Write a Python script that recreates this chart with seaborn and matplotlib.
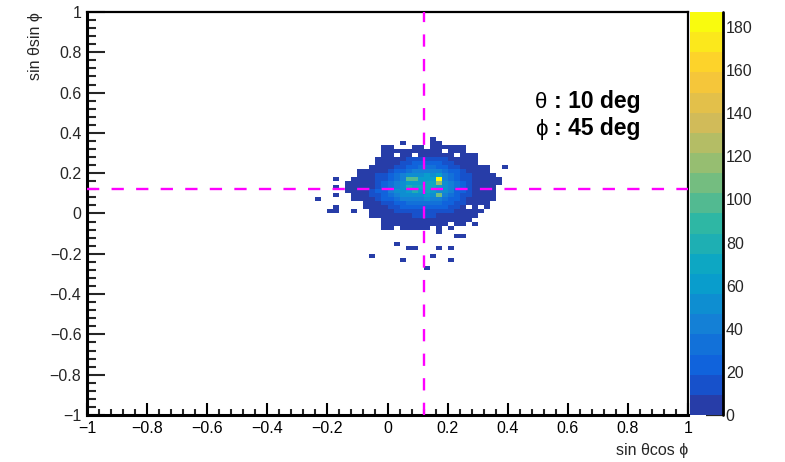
import numpy as np
import matplotlib
matplotlib.use("Agg")
import matplotlib.pyplot as plt
import seaborn as sns
from matplotlib.colors import ListedColormap
from matplotlib.lines import Line2D
from matplotlib.ticker import AutoMinorLocator

# ---------------- data ----------------
theta_deg = 10
phi_deg = 45
bin_width = 0.02
x_first_edge = -0.26      # left edge of column 0
y_top_edge = 0.40         # top edge of row 0
# counts per row (row 0 = top, y in [0.38,0.40]); {column index: count}
rows = [
    {},
    {20: 1},
    {15: 1, 20: 1, 21: 1},
    {12: 1, 13: 1, 17: 1, 18: 1, 20: 2, 21: 2, 22: 1, 23: 1, 24: 1, 25: 1},
    {12: 2, 13: 2, 14: 3, 15: 3, 16: 2, 17: 3, 18: 4, 19: 4, 20: 5, 21: 4, 23: 3, 24: 2, 25: 2},
    {12: 2, 13: 3, 15: 5, 16: 6, 18: 8, 19: 8, 20: 8, 21: 7, 22: 6, 23: 5, 25: 2, 26: 2, 27: 1},
    {11: 1, 12: 3, 13: 4, 14: 6, 15: 8, 16: 10, 17: 12, 18: 13, 19: 14, 20: 13, 21: 12, 22: 10, 23: 8, 24: 6, 25: 4, 26: 3, 27: 2},
    {11: 2, 12: 4, 13: 6, 14: 9, 15: 13, 16: 16, 17: 19, 18: 21, 19: 22, 20: 21, 21: 19, 22: 16, 23: 13, 24: 9, 25: 6, 26: 4, 27: 2},
    {10: 1, 11: 4, 12: 6, 13: 9, 14: 13, 15: 18, 16: 23, 17: 27, 18: 30, 19: 32, 20: 30, 21: 27, 22: 23, 23: 18, 24: 13, 25: 9, 26: 6, 27: 4, 28: 2, 29: 1, 32: 1},
    {8: 1, 9: 2, 10: 3, 11: 5, 12: 8, 13: 13, 14: 19, 15: 26, 16: 32, 17: 38, 18: 43, 19: 45, 20: 43, 21: 38, 22: 32, 23: 26, 24: 19, 25: 13, 26: 8, 27: 5, 28: 3, 29: 1},
    {8: 2, 9: 3, 10: 6, 11: 11, 12: 17, 13: 24, 14: 33, 15: 42, 16: 49, 17: 55, 18: 55, 19: 58, 20: 55, 21: 60, 22: 42, 23: 33, 24: 24, 25: 17, 26: 11, 27: 6, 28: 3, 29: 2, 30: 1},
    {4: 1, 7: 1, 8: 2, 9: 4, 10: 7, 11: 12, 12: 18, 13: 26, 14: 35, 15: 45, 16: 95, 17: 100, 18: 59, 19: 62, 20: 59, 21: 187, 22: 45, 23: 35, 24: 26, 25: 18, 26: 12, 27: 7, 28: 4, 29: 2, 30: 1, 31: 1},
    {6: 1, 7: 1, 8: 2, 9: 4, 10: 7, 11: 13, 12: 20, 13: 29, 14: 39, 15: 49, 16: 58, 17: 65, 18: 65, 19: 68, 20: 70, 21: 120, 22: 49, 23: 39, 24: 29, 25: 20, 26: 13, 27: 7, 28: 4, 29: 2, 30: 1, 31: 1},
    {4: 1, 6: 1, 7: 1, 8: 2, 9: 4, 10: 8, 11: 13, 12: 20, 13: 29, 14: 40, 15: 50, 16: 75, 17: 67, 18: 67, 19: 70, 20: 67, 21: 60, 22: 50, 23: 40, 24: 29, 25: 20, 26: 13, 27: 8, 28: 4, 29: 2, 30: 1},
    {6: 1, 7: 2, 8: 4, 9: 7, 10: 13, 11: 19, 12: 28, 13: 38, 14: 48, 15: 56, 16: 63, 17: 80, 18: 63, 19: 66, 20: 63, 21: 56, 22: 48, 23: 38, 24: 28, 25: 19, 26: 13, 27: 7, 28: 4, 29: 2, 30: 1},
    {4: 1, 7: 1, 8: 3, 9: 6, 10: 11, 11: 17, 12: 24, 13: 33, 14: 42, 15: 49, 16: 55, 17: 55, 18: 55, 19: 58, 20: 55, 21: 112, 22: 42, 23: 33, 24: 24, 25: 17, 26: 11, 27: 6, 28: 3, 29: 2, 30: 1},
    {1: 1, 7: 1, 8: 1, 9: 5, 10: 9, 11: 14, 12: 20, 13: 27, 14: 35, 15: 41, 16: 46, 17: 46, 18: 46, 19: 48, 20: 46, 21: 41, 22: 35, 23: 27, 24: 20, 25: 14, 26: 9, 27: 5, 28: 3, 29: 1, 30: 1},
    {9: 2, 10: 4, 11: 7, 12: 10, 13: 15, 14: 21, 15: 26, 16: 31, 17: 34, 18: 34, 19: 36, 20: 34, 21: 31, 22: 26, 23: 21, 24: 15, 25: 10, 26: 7, 27: 4, 28: 2, 29: 1},
    {4: 1, 9: 1, 10: 3, 11: 5, 12: 8, 13: 11, 14: 15, 15: 19, 16: 22, 17: 25, 18: 25, 19: 26, 20: 25, 21: 22, 22: 19, 23: 15, 24: 11, 25: 8, 27: 3, 29: 1},
    {3: 1, 4: 1, 7: 1, 10: 1, 11: 3, 12: 5, 13: 7, 14: 10, 15: 12, 16: 14, 17: 16, 18: 16, 19: 17, 20: 16, 21: 14, 22: 12, 23: 10, 24: 7, 25: 5, 26: 3, 27: 2, 28: 1},
    {10: 1, 11: 2, 12: 3, 13: 4, 14: 6, 15: 7, 16: 9, 17: 10, 18: 10, 19: 10, 20: 10, 21: 9, 22: 7, 23: 6, 24: 4, 25: 3, 26: 2, 27: 1},
    {12: 2, 13: 2, 14: 3, 15: 3, 16: 4, 17: 5, 18: 6, 19: 6, 20: 6, 21: 5, 22: 4, 23: 3, 24: 3, 25: 2, 26: 1},
    {12: 1, 13: 1, 14: 1, 15: 2, 16: 2, 17: 3, 18: 3, 19: 3, 20: 3, 21: 3, 22: 2, 24: 2, 25: 1, 27: 1},
    {12: 1, 13: 1, 15: 1, 16: 1, 17: 2, 18: 1, 19: 1, 21: 1, 23: 1},
    {21: 1},
    {24: 1, 25: 1},
    {},
    {14: 1},
    {16: 1, 17: 1, 21: 1, 23: 1},
    {},
    {10: 1, 20: 1},
    {15: 1, 23: 1},
    {},
    {19: 1},
]

axis_ticks = [-1, -0.8, -0.6, -0.4, -0.2, 0, 0.2, 0.4, 0.6, 0.8, 1]
axis_tick_labels = ["\u22121", "\u22120.8", "\u22120.6", "\u22120.4", "\u22120.2", "0",
                    "0.2", "0.4", "0.6", "0.8", "1"]
cbar_ticks = [0, 20, 40, 60, 80, 100, 120, 140, 160, 180]
cbar_tick_labels = ["0", "20", "40", "60", "80", "100", "120", "140", "160", "180"]
x_title = "sin \u03b8cos \u03d5"
y_title = "sin \u03b8sin \u03d5"

# ------------- build samples -------------
xs, ys, ws = [], [], []
for r, row in enumerate(rows):
    for k, c in row.items():
        xs.append(x_first_edge + (k + 0.5) * bin_width)
        ys.append(y_top_edge - (r + 0.5) * bin_width)
        ws.append(c)
zmax = max(ws)

# ROOT kBird palette, 20 contour levels
stops = [0.0, 0.125, 0.25, 0.375, 0.5, 0.625, 0.75, 0.875, 1.0]
red = [0.2082, 0.0592, 0.0780, 0.0232, 0.1802, 0.5301, 0.8186, 0.9956, 0.9764]
green = [0.1664, 0.3599, 0.5041, 0.6419, 0.7178, 0.7492, 0.7328, 0.7862, 0.9832]
blue = [0.5293, 0.8684, 0.8385, 0.7914, 0.6425, 0.4662, 0.3499, 0.1968, 0.0539]
nlev = 20
cols = []
for i in range(nlev):
    t = min(int((i + 0.99) * 255 / nlev) / 254.0, 1.0)
    cols.append((np.interp(t, stops, red), np.interp(t, stops, green), np.interp(t, stops, blue)))
cmap = ListedColormap(cols)

# ------------- plot -------------
sns.set_style("white")
plt.rcParams["font.family"] = ["Liberation Sans", "DejaVu Sans"]

W, H = 785, 462
fig = plt.figure(figsize=(W / 100, H / 100), dpi=100)
L, R, T, B = 87, 688, 12, 415
ax = fig.add_axes([L / W, 1 - B / H, (R - L) / W, (B - T) / H])
cax = fig.add_axes([690 / W, 1 - B / H, (723 - 690) / W, (B - T) / H])

sns.histplot(x=xs, y=ys, weights=ws, bins=100, binrange=(-1, 1),
             cmap=cmap, vmin=0, vmax=zmax, ax=ax)
mesh = ax.collections[-1]

ax.set_xlim(-1, 1)
ax.set_ylim(-1, 1)
ax.set_xticks(axis_ticks)
ax.set_xticklabels(axis_tick_labels)
ax.set_yticks(axis_ticks)
ax.set_yticklabels(axis_tick_labels)
ax.xaxis.set_minor_locator(AutoMinorLocator(5))
ax.yaxis.set_minor_locator(AutoMinorLocator(5))
ax.tick_params(axis="x", which="major", direction="in", length=8.6, width=1.5,
               labelsize=11.5, pad=4, bottom=True, top=False, colors="black")
ax.tick_params(axis="x", which="minor", direction="in", length=4.3, width=1.5,
               bottom=True, top=False)
ax.tick_params(axis="y", which="major", direction="in", length=13, width=1.5,
               labelsize=11.5, pad=4, left=True, right=False)
ax.tick_params(axis="y", which="minor", direction="in", length=6.5, width=1.5,
               left=True, right=False)
for s in ax.spines.values():
    s.set_visible(True)
    s.set_color("black")
    s.set_linewidth(1.6)
ax.spines["left"].set_linewidth(2.2)
ax.spines["bottom"].set_linewidth(2.2)
ax.grid(False)
ax.set_xlabel(x_title, loc="right", fontsize=11.5, labelpad=5)
ax.set_ylabel(y_title, loc="top", fontsize=11.5, labelpad=5)

# crosshair at the true direction
x0 = np.sin(np.radians(theta_deg)) * np.cos(np.radians(phi_deg))
y0 = np.sin(np.radians(theta_deg)) * np.sin(np.radians(phi_deg))
ax.axhline(y0, color="#ff00ff", lw=1.7, dashes=(5.2, 5.2), zorder=5)
ax.axvline(x0, color="#ff00ff", lw=1.7, dashes=(5.2, 5.2), zorder=5)

# annotation
for yy, sym, txt in [(0.524, "\u03b8", f": {theta_deg} deg"),
                     (0.390, "\u03d5", f": {phi_deg} deg")]:
    ax.text(0.492, yy, sym, fontsize=16, va="baseline", ha="left", color="black")
    ax.text(0.555, yy, txt, fontsize=16.5, fontweight="bold",
            va="baseline", ha="left", color="black")

# colour bar
cb = fig.colorbar(mesh, cax=cax)
cb.outline.set_visible(False)
cax.set_ylim(0, zmax)
cb.set_ticks(cbar_ticks)
cb.set_ticklabels(cbar_tick_labels)
cax.yaxis.set_ticks_position("right")
cax.tick_params(axis="y", which="major", direction="in", length=12, width=1.6,
                labelsize=11.5, pad=2)
cax.minorticks_off()
cax.add_line(Line2D([1, 1], [0, 1], transform=cax.transAxes, color="black",
                    lw=2.0, clip_on=False))

fig.savefig("out.png", dpi=100, facecolor="white")
